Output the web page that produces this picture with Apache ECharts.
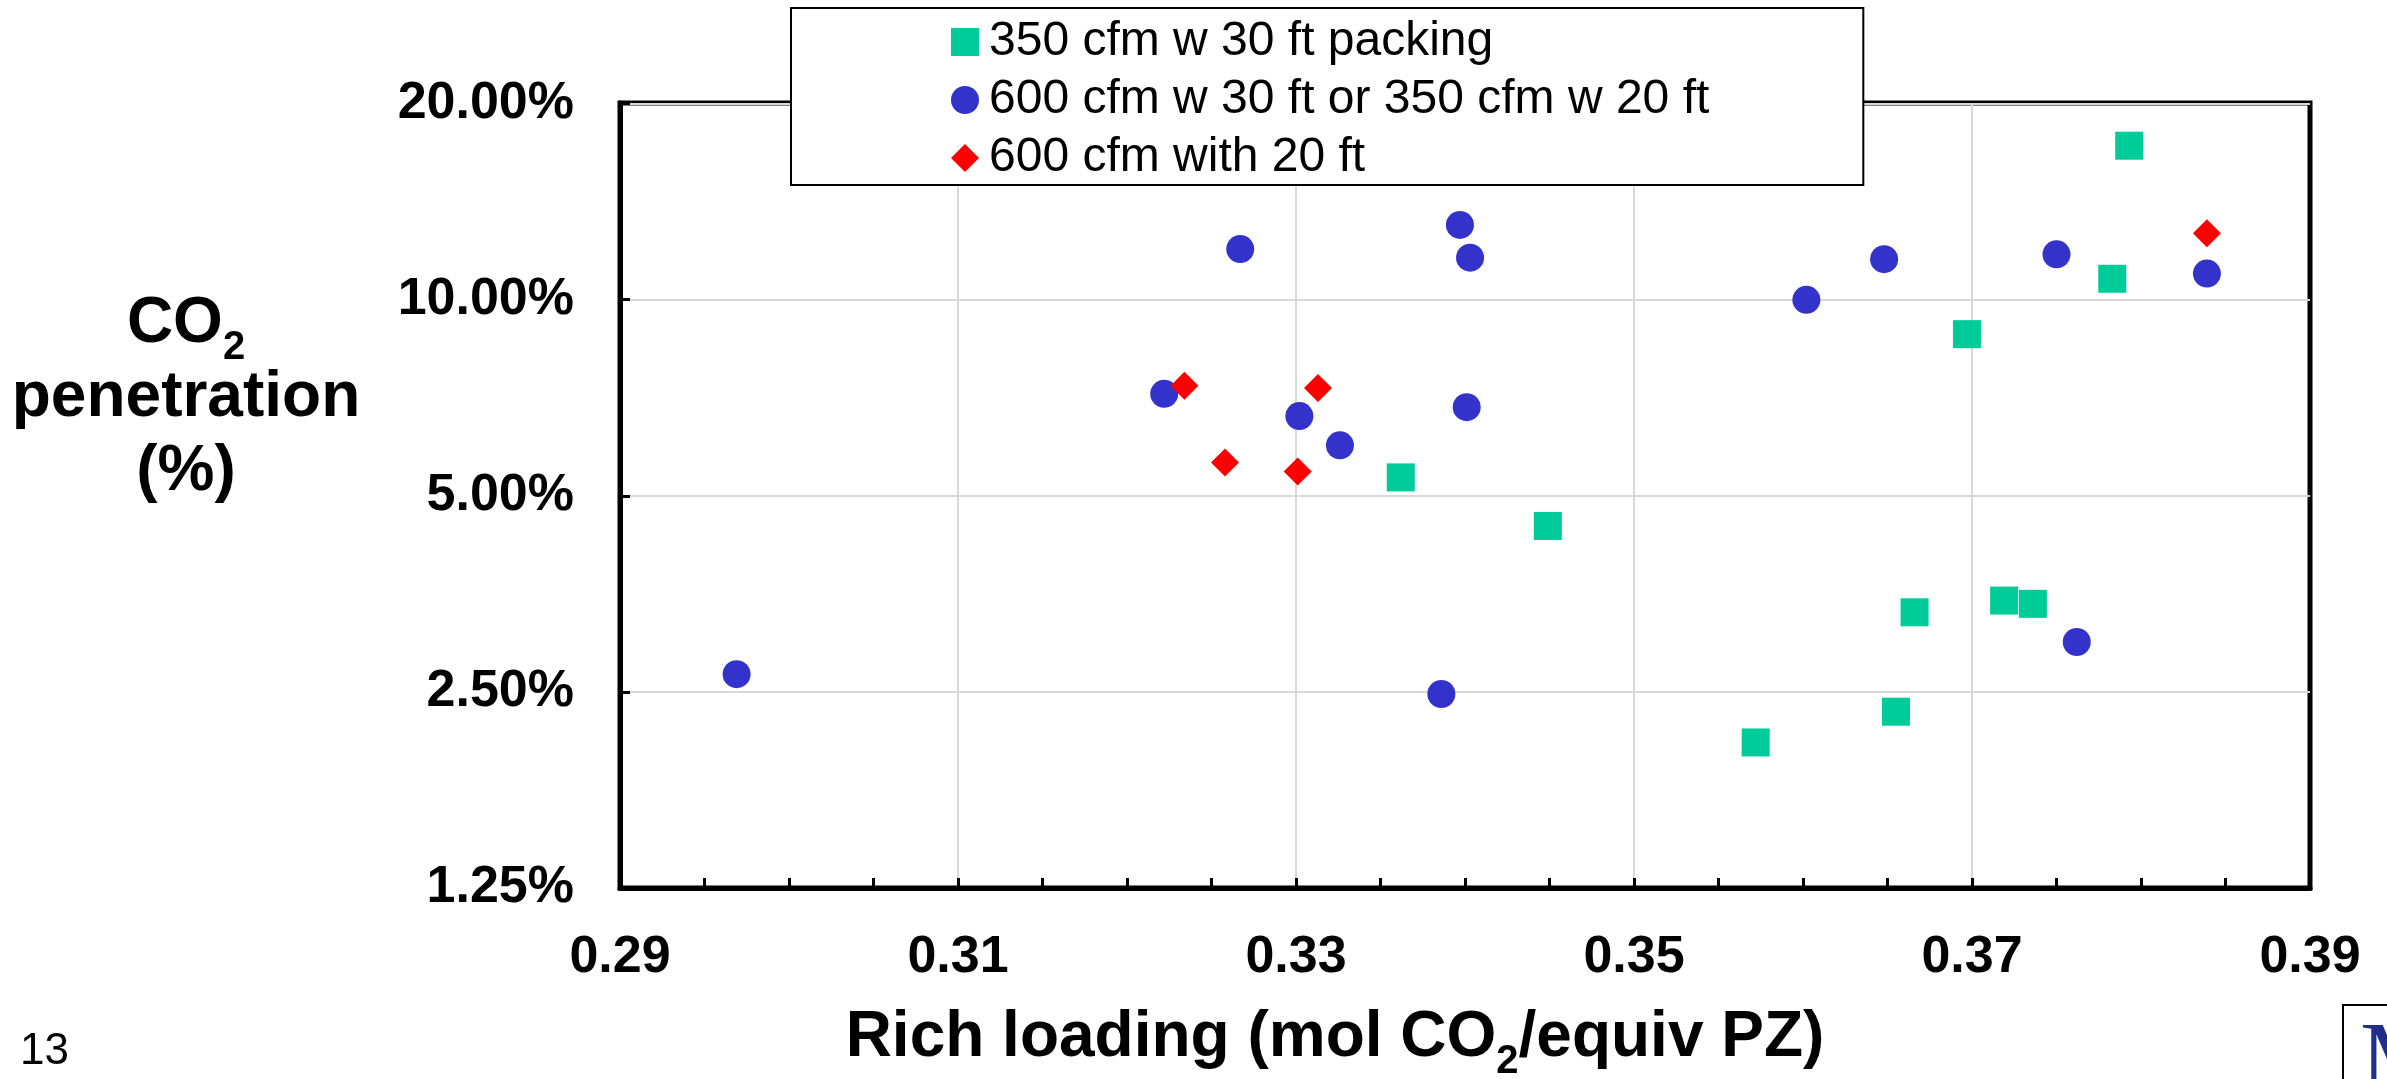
<!DOCTYPE html>
<html>
<head>
<meta charset="utf-8">
<title>CO2 penetration vs rich loading</title>
<script src="https://cdn.jsdelivr.net/npm/echarts@6.0.0/dist/echarts.min.js"></script>
<style>
  html, body { margin: 0; padding: 0; background: #fff; }
  #chart { width: 2387px; height: 1079px; }
</style>
</head>
<body>
<div id="chart"></div>
<script>
// legend / series names
var seriesNames = ['350 cfm w 30 ft packing', '600 cfm w 30 ft or 350 cfm w 20 ft', '600 cfm with 20 ft'];

// 350 cfm w 30 ft packing (squares)
var sqLoading = [0.3793, 0.3783, 0.3697, 0.3362, 0.3449, 0.3666, 0.3719, 0.3736, 0.3655, 0.3572];
var sqPen     = [17.2, 10.75, 8.84, 5.33, 4.49, 3.31, 3.45, 3.41, 2.33, 2.09];

// 600 cfm w 30 ft or 350 cfm w 20 ft (circles)
var ciLoading = [0.2969, 0.3222, 0.3267, 0.3302, 0.3326, 0.3397, 0.3403, 0.3401, 0.3386, 0.3602, 0.3648, 0.3750, 0.3839, 0.3762];
var ciPen     = [2.66, 7.16, 11.94, 6.62, 5.97, 13.0, 11.58, 6.83, 2.48, 9.98, 11.52, 11.72, 10.95, 2.98];

// 600 cfm with 20 ft (diamonds)
var diLoading = [0.3234, 0.3313, 0.3258, 0.3301, 0.3839];
var diPen     = [7.37, 7.31, 5.62, 5.44, 12.63];

// axes
var xTicks = [0.29, 0.31, 0.33, 0.35, 0.37, 0.39];
var yTicks = [1.25, 2.5, 5, 10, 20];

function pairs(xs, ys) {
    return xs.map(function (x, i) { return [x, ys[i]]; });
}

// nearest tick in log space (log scale returns slightly rounded values)
function yLabel(v) {
    var best = yTicks[0];
    yTicks.forEach(function (t) {
        if (Math.abs(Math.log(t / v)) < Math.abs(Math.log(best / v))) best = t;
    });
    return best.toFixed(2) + '%';
}

var font = "'Liberation Sans', Arial, sans-serif";

// text widths, to place the subscript 2 after "CO"
var ctx = document.createElement('canvas').getContext('2d');
function textWidth(s, size) {
    ctx.font = 'bold ' + size + 'px ' + font;
    return ctx.measureText(s).width;
}

// x title: "Rich loading (mol CO" + sub 2 + "/equiv PZ)"
var xt1 = 'Rich loading (mol CO', xt2 = '/equiv PZ)';
var xtW1 = textWidth(xt1, 64), xtW2 = textWidth('2', 40), xtW3 = textWidth(xt2, 64);
var xtLeft = 1335 - (xtW1 + xtW2 + xtW3) / 2;

// y title first line: "CO" + sub 2
var ytW1 = textWidth('CO', 64), ytW2 = textWidth('2', 40);
var ytLeft = 186 - (ytW1 + ytW2) / 2;

var chart = echarts.init(document.getElementById('chart'));

var option = {
    animation: false,
    backgroundColor: '#fff',
    textStyle: { fontFamily: font },
    grid: {
        left: 620, right: 77, top: 103, bottom: 191,
        show: true, borderColor: '#000', borderWidth: 5
    },
    legend: {
        left: 791, top: 8,
        orient: 'vertical',
        data: seriesNames,
        selectedMode: false,
        itemWidth: 28, itemHeight: 28, itemGap: 10,
        padding: [10, 154, 3, 160],
        backgroundColor: '#fff',
        borderColor: '#000', borderWidth: 2,
        textStyle: { fontSize: 48, lineHeight: 48, color: '#000', fontFamily: font, padding: [0, 0, 0, 5] }
    },
    xAxis: {
        type: 'value',
        min: xTicks[0], max: xTicks[xTicks.length - 1],
        interval: xTicks[1] - xTicks[0],
        axisLine: { show: true, onZero: false, lineStyle: { color: '#000', width: 5 } },
        axisTick: { show: true, inside: true, length: 10, lineStyle: { color: '#000', width: 3 } },
        minorTick: { show: true, splitNumber: 4, length: 10, lineStyle: { color: '#000', width: 3 } },
        axisLabel: {
            margin: 44, fontSize: 52, fontWeight: 'bold', color: '#000', fontFamily: font,
            formatter: function (v) { return v.toFixed(2); }
        },
        splitLine: { show: true, showMinLine: false, showMaxLine: false, lineStyle: { color: '#d9d9d9', width: 2 } }
    },
    yAxis: {
        type: 'log', logBase: 2,
        min: yTicks[0], max: yTicks[yTicks.length - 1],
        interval: 1,
        axisLine: { show: true, lineStyle: { color: '#000', width: 5 } },
        axisTick: { show: true, inside: true, length: 10, lineStyle: { color: '#000', width: 3 } },
        axisLabel: {
            margin: 46, fontSize: 52, fontWeight: 'bold', color: '#000', fontFamily: font,
            formatter: yLabel
        },
        splitLine: { show: true, showMinLine: false, showMaxLine: false, lineStyle: { color: '#d9d9d9', width: 2 } }
    },
    series: [
        {
            name: seriesNames[0], type: 'scatter', symbol: 'rect', symbolSize: 28,
            itemStyle: { color: '#00CC99', opacity: 1 },
            data: pairs(sqLoading, sqPen)
        },
        {
            name: seriesNames[1], type: 'scatter', symbol: 'circle', symbolSize: 28,
            itemStyle: { color: '#3333CC', opacity: 1 },
            data: pairs(ciLoading, ciPen)
        },
        {
            name: seriesNames[2], type: 'scatter', symbol: 'diamond', symbolSize: 28,
            itemStyle: { color: '#FF0000', opacity: 1 },
            data: pairs(diLoading, diPen)
        }
    ],
    graphic: [
        // y axis title
        {
            type: 'text', x: ytLeft, y: 324,
            style: { text: 'CO', align: 'left', verticalAlign: 'middle',
                     fontSize: 64, fontWeight: 'bold', fontFamily: font, fill: '#000' }
        },
        {
            type: 'text', x: ytLeft + ytW1, y: 348,
            style: { text: '2', align: 'left', verticalAlign: 'middle',
                     fontSize: 40, fontWeight: 'bold', fontFamily: font, fill: '#000' }
        },
        {
            type: 'text', x: 186, y: 435,
            style: { text: 'penetration\n(%)', align: 'center', verticalAlign: 'middle',
                     fontSize: 64, fontWeight: 'bold', fontFamily: font, lineHeight: 74, fill: '#000' }
        },
        // x axis title
        {
            type: 'text', x: xtLeft, y: 1038,
            style: { text: xt1, align: 'left', verticalAlign: 'middle',
                     fontSize: 64, fontWeight: 'bold', fontFamily: font, fill: '#000' }
        },
        {
            type: 'text', x: xtLeft + xtW1, y: 1062,
            style: { text: '2', align: 'left', verticalAlign: 'middle',
                     fontSize: 40, fontWeight: 'bold', fontFamily: font, fill: '#000' }
        },
        {
            type: 'text', x: xtLeft + xtW1 + xtW2, y: 1038,
            style: { text: xt2, align: 'left', verticalAlign: 'middle',
                     fontSize: 64, fontWeight: 'bold', fontFamily: font, fill: '#000' }
        },
        // page number and logo corner
        {
            type: 'text', x: 20, y: 1052,
            style: { text: '13', verticalAlign: 'middle', fontSize: 44, fontFamily: font, fill: '#000' }
        },
        {
            type: 'rect', shape: { x: 2343, y: 1005, width: 120, height: 120 },
            style: { fill: '#fff', stroke: '#000', lineWidth: 2 }
        },
        {
            type: 'text', x: 2360, y: 1014,
            style: { text: 'M', fontSize: 100, fontFamily: "'Liberation Serif', serif", fill: '#1f2f8a' }
        }
    ]
};

chart.setOption(option);
</script>
</body>
</html>
